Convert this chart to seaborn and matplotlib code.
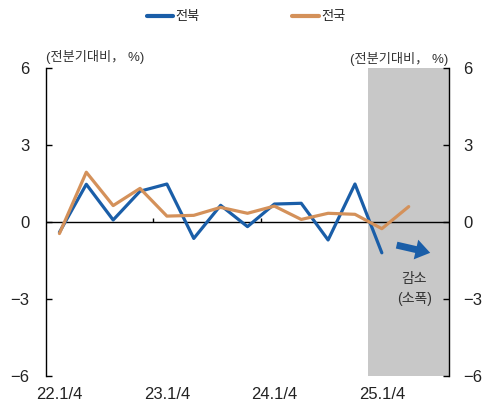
import numpy as np
import pandas as pd
import matplotlib
matplotlib.use("Agg")
import matplotlib.pyplot as plt
import seaborn as sns

# data (전분기대비, %)
quarters = ["22.1Q", "22.2Q", "22.3Q", "22.4Q", "23.1Q", "23.2Q", "23.3Q", "23.4Q",
            "24.1Q", "24.2Q", "24.3Q", "24.4Q", "25.1Q", "25.2Q"]
jeonbuk = [-0.4, 1.47, 0.08, 1.2, 1.48, -0.64, 0.65, -0.18, 0.7, 0.73, -0.7, 1.48, -1.2]
jeonguk = [-0.45, 1.94, 0.64, 1.31, 0.23, 0.26, 0.57, 0.34, 0.62, 0.1, 0.34, 0.3, -0.26, 0.6]
tick_pos = [0, 4, 8, 12]
tick_labels = ["22.1/4", "23.1/4", "24.1/4", "25.1/4"]
yticks = [6, 3, 0, -3, -6]

blue = "#1a5ea8"
orange = "#d4915a"

df = pd.concat([
    pd.DataFrame({"idx": range(len(jeonbuk)), "val": jeonbuk, "지역": "전북"}),
    pd.DataFrame({"idx": range(len(jeonguk)), "val": jeonguk, "지역": "전국"}),
])

sns.set_style("white")
plt.rcParams["font.family"] = ["Liberation Sans", "Noto Sans CJK KR"]
plt.rcParams["axes.unicode_minus"] = True

fig = plt.figure(figsize=(4.92, 4.08), dpi=100)
ax = fig.add_axes([0.0935, 0.0784, 0.8191, 0.7549])

ax.axvspan(11.5, 14.5, color="#c8c8c8", lw=0, zorder=0)
ax.axhline(0, color="black", lw=1.0, zorder=1)
ax.vlines([3.5, 7.5, 11.5], 0, 0.17, color="black", lw=1.0)

sns.lineplot(data=df, x="idx", y="val", hue="지역", palette=[blue, orange],
             hue_order=["전북", "전국"], lw=2.3, ax=ax, legend=False, zorder=3)

ax.set_xlim(-0.5, 14.5)
ax.set_ylim(-6, 6)
ax.set_xlabel("")
ax.set_ylabel("")
ax.set_xticks(tick_pos)
ax.set_xticklabels(tick_labels, fontsize=12, color="#222222")
ax.tick_params(axis="x", length=0, pad=8)
ax.set_yticks(yticks)
ax.set_yticklabels([str(t).replace("-", "\u2212") for t in yticks], fontsize=12, color="#222222")
ax.tick_params(axis="y", direction="in", length=4, width=1, pad=12, colors="black", labelcolor="#222222")
for s in ["top", "bottom", "right"]:
    ax.spines[s].set_visible(False)
ax.spines["left"].set_color("black")
ax.spines["left"].set_linewidth(1.0)

ax2 = ax.twinx()
ax2.set_ylim(-6, 6)
ax2.set_yticks(yticks)
ax2.set_yticklabels([str(t).replace("-", "\u2212") for t in yticks], fontsize=12, color="#222222")
ax2.tick_params(axis="y", direction="in", length=4, width=1, pad=10, colors="black", labelcolor="#222222")
for s in ["top", "bottom", "left"]:
    ax2.spines[s].set_visible(False)
ax2.spines["right"].set_color("black")
ax2.spines["right"].set_linewidth(1.0)

# unit labels
unit = "(전분기대비\uff0c %)"
fig.text(0.093, 0.86, unit, fontsize=9.5, ha="left", va="center", color="#333333")
fig.text(0.911, 0.855, unit, fontsize=9.5, ha="right", va="center", color="#333333")

# arrow and note
ax.annotate("", xy=(13.8, -1.2), xytext=(12.55, -0.9),
            arrowprops=dict(arrowstyle="simple,head_width=1.45,head_length=1.05,tail_width=0.5",
                            color=blue, lw=0, shrinkA=0, shrinkB=0))
ax.text(13.2, -2.22, "감소", fontsize=10, ha="center", va="center", color="#333333")
ax.text(13.2, -3.0, "(소폭)", fontsize=10, ha="center", va="center", color="#333333")

handles = [plt.Line2D([], [], color=blue, lw=3), plt.Line2D([], [], color=orange, lw=3)]
fig.legend(handles, ["전북", "전국"], loc="center", bbox_to_anchor=(0.5, 0.958), ncol=2,
           frameon=False, fontsize=9.5, handlelength=2.0, handletextpad=0.2,
           columnspacing=7.0)

fig.savefig("out.png", dpi=100)
